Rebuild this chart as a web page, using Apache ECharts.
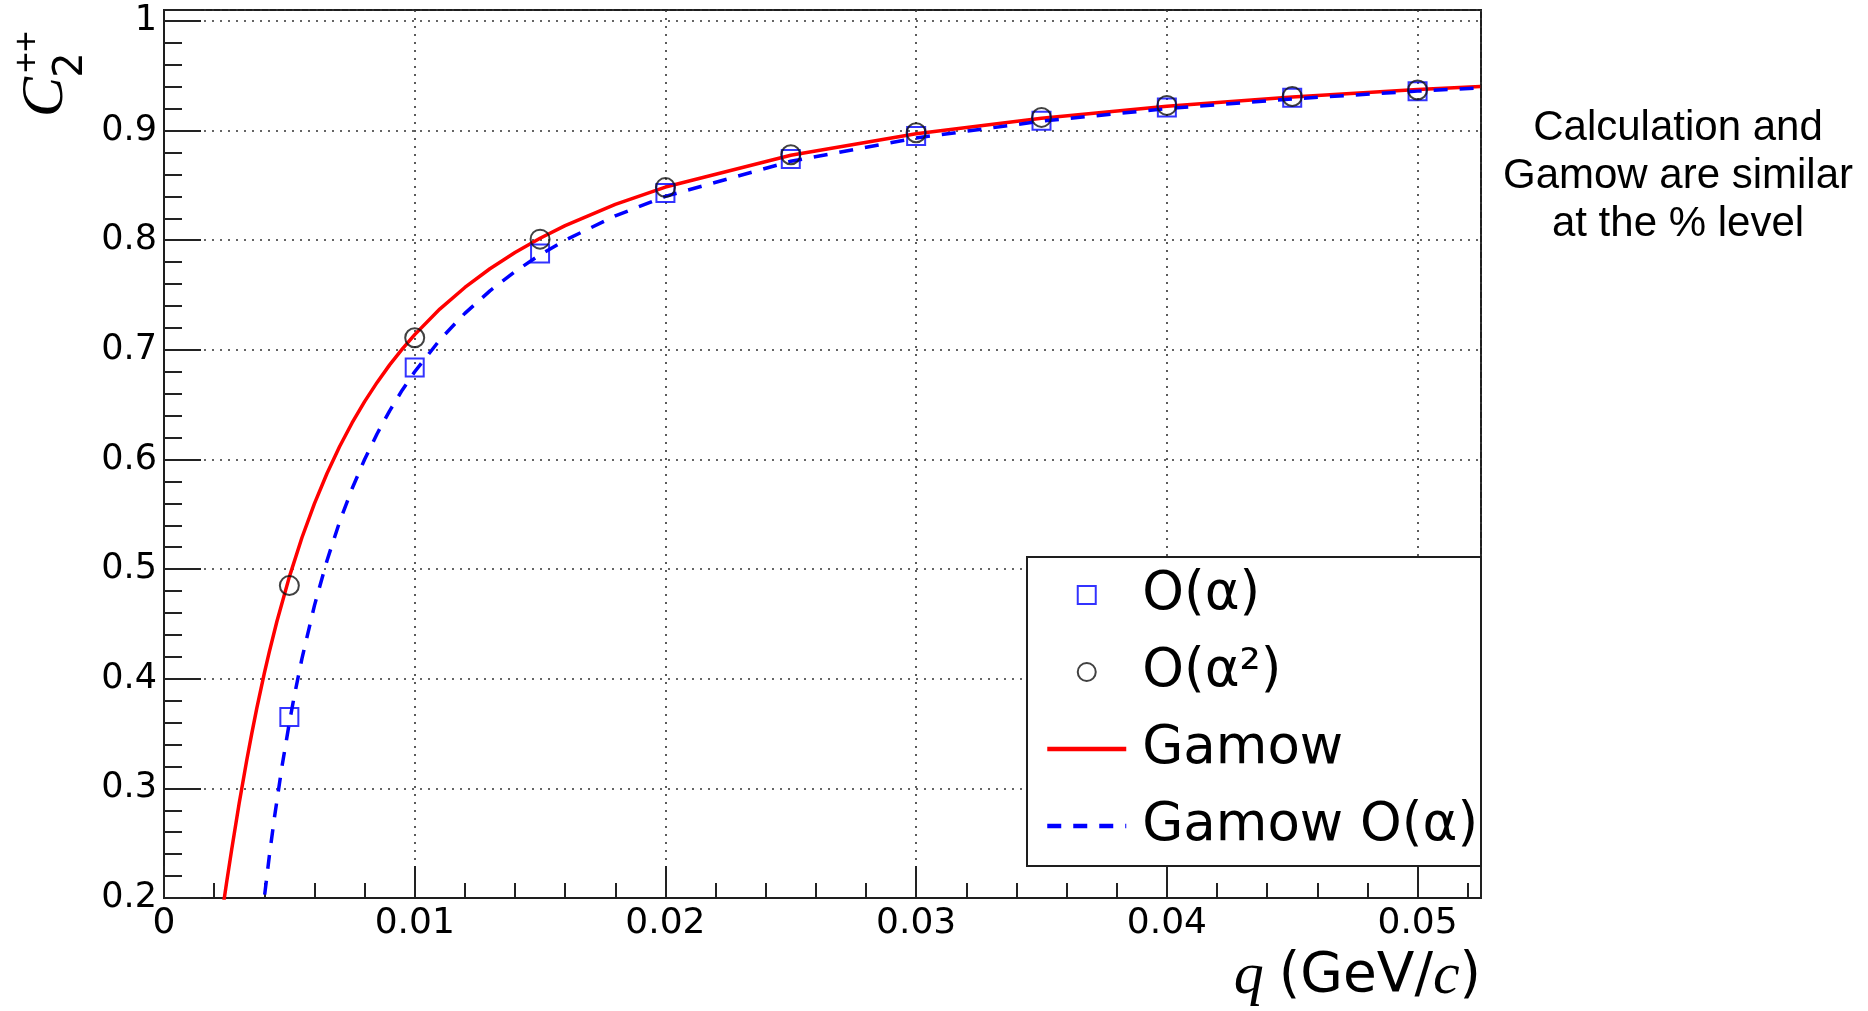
<!DOCTYPE html>
<html>
<head>
<meta charset="utf-8">
<script src="https://cdn.jsdelivr.net/npm/echarts@6/dist/echarts.min.js"></script>
<style>
html,body{margin:0;padding:0;background:#fff;}
#chart{width:1868px;height:1011px;}
</style>
</head>
<body>
<div id="chart"></div>
<script>
// ---- data ----
const markerQ = [0.005, 0.010, 0.015, 0.020, 0.025, 0.030, 0.035, 0.040, 0.045, 0.050];
const orderAlpha  = [0.365, 0.684, 0.788, 0.843, 0.874, 0.895, 0.909, 0.921, 0.930, 0.936];
const orderAlpha2 = [0.485, 0.711, 0.801, 0.848, 0.878, 0.898, 0.912, 0.923, 0.931, 0.937];

const gamowQ = [0.0023,0.0025,0.0027,0.003,0.0033,0.0035,0.0037,0.004,0.0042,0.0045,0.005,0.0055,0.006,0.0065,0.007,0.0075,0.008,0.0085,0.009,0.0095,0.010,0.011,0.012,0.013,0.014,0.015,0.016,0.018,0.020,0.025,0.030,0.035,0.040,0.045,0.050,0.0525];
const gamowC2 = [0.1835,0.2145,0.2443,0.2866,0.3257,0.3500,0.3729,0.4048,0.4245,0.4520,0.4929,0.5286,0.5597,0.5872,0.6116,0.6333,0.6528,0.6703,0.6863,0.7006,0.7139,0.7372,0.7569,0.7740,0.7888,0.8018,0.8133,0.8327,0.8485,0.8775,0.8971,0.9113,0.9221,0.9306,0.9374,0.9403];

const gamowAlphaQ = [0.0039,0.004,0.0042,0.0044,0.0047,0.005,0.0052,0.0055,0.006,0.0065,0.007,0.0075,0.008,0.0085,0.009,0.0095,0.010,0.011,0.012,0.013,0.014,0.015,0.016,0.018,0.020,0.025,0.030,0.035,0.040,0.045,0.050,0.0525];
const gamowAlphaC2 = [0.1795,0.2000,0.2381,0.2727,0.3191,0.3600,0.3846,0.4182,0.4667,0.5077,0.5429,0.5733,0.6000,0.6235,0.6444,0.6632,0.6800,0.7091,0.7333,0.7538,0.7714,0.7867,0.8000,0.8222,0.8400,0.8720,0.8933,0.9086,0.9200,0.9289,0.9360,0.9390];

const seriesNames = ['O(α)', 'O(α²)', 'Gamow', 'Gamow O(α)'];
const noteLines = ['Calculation and', 'Gamow are similar', 'at the % level'];

const X_MIN = 0, X_MAX = 0.05253, X_STEP = 0.01;
const Y_MIN = 0.2, Y_MAX = 1.01, Y_STEP = 0.1;

const zip = (a, b) => a.map((v, i) => [v, b[i]]);

function tickFmt(min, step) {
  return function (v) {
    const k = (v - min) / step;
    if (Math.abs(k - Math.round(k)) > 1e-6) return '';
    return String(+v.toFixed(4));
  };
}

const frameColor = '#1e1e1e';
const gridDots = { color: '#333', width: 1.6, type: [2, 6] };
// legend icon: an 18x18 square centred in the 79x18 icon box
const squareIcon = 'path://M0,0M79,18M30.5,0H48.5V18H30.5Z';

const chart = echarts.init(document.getElementById('chart'), null, { renderer: 'canvas' });
chart.setOption({
  animation: false,
  backgroundColor: '#ffffff',
  grid: {
    left: 164, right: 387, top: 10, bottom: 113,
    show: true, borderColor: frameColor, borderWidth: 2, backgroundColor: '#fff'
  },
  xAxis: {
    type: 'value', min: X_MIN, max: X_MAX, interval: X_STEP,
    axisLine: { onZero: false, lineStyle: { color: frameColor, width: 2 } },
    axisTick: { inside: true, length: 32, lineStyle: { color: '#222', width: 2 } },
    minorTick: { show: true, splitNumber: 5, length: 15, lineStyle: { color: '#222', width: 2 } },
    splitLine: { show: true, lineStyle: gridDots },
    axisLabel: { fontFamily: 'DejaVu Sans', fontSize: 36, color: '#000', margin: 8, formatter: tickFmt(X_MIN, X_STEP) }
  },
  yAxis: {
    type: 'value', min: Y_MIN, max: Y_MAX, interval: Y_STEP,
    axisLine: { onZero: false, lineStyle: { color: frameColor, width: 2 } },
    axisTick: { inside: true, length: 37, lineStyle: { color: '#222', width: 2 } },
    minorTick: { show: true, splitNumber: 5, length: 18, lineStyle: { color: '#222', width: 2 } },
    splitLine: { show: true, lineStyle: gridDots },
    axisLabel: { fontFamily: 'DejaVu Sans', fontSize: 35, color: '#000', margin: 7, formatter: tickFmt(Y_MIN, Y_STEP) }
  },
  legend: {
    orient: 'vertical', left: 1045, top: 565, padding: 0, z: 10,
    itemWidth: 79, itemHeight: 18, itemGap: 17, selectedMode: false,
    data: [
      { name: seriesNames[0], icon: squareIcon, itemStyle: { color: 'rgba(0,0,0,0)', borderColor: '#0000ff', borderWidth: 2 } },
      { name: seriesNames[1], icon: 'circle' },
      { name: seriesNames[2], itemStyle: { opacity: 0 }, lineStyle: { width: 4.5, color: '#ff0000' } },
      { name: seriesNames[3], itemStyle: { opacity: 0 }, lineStyle: { width: 4.5, color: '#0000ff', type: [14, 12] } }
    ],
    textStyle: { fontFamily: 'DejaVu Sans', fontSize: 53, color: '#000', lineHeight: 60, padding: [0, 0, 0, 11] }
  },
  graphic: [
    { type: 'rect', z: 3, shape: { x: 1027, y: 557, width: 454, height: 309 },
      style: { fill: '#fff', stroke: frameColor, lineWidth: 2 } },
    { type: 'text', x: 46, y: 97, rotation: Math.PI / 2,
      style: { text: 'C', font: 'italic 60px "Liberation Serif"', fill: '#000', align: 'center', verticalAlign: 'middle', textAlign: 'center', textVerticalAlign: 'middle' } },
    { type: 'text', x: 72, y: 65, rotation: Math.PI / 2,
      style: { text: '2', font: '40px "DejaVu Sans"', fill: '#000', align: 'center', verticalAlign: 'middle', textAlign: 'center', textVerticalAlign: 'middle' } },
    { type: 'text', x: 28, y: 52, rotation: Math.PI / 2,
      style: { text: '++', font: '36px "Liberation Sans"', fill: '#000', align: 'center', verticalAlign: 'middle', textAlign: 'center', textVerticalAlign: 'middle' } },
    { type: 'text', x: 1481, y: 977,
      style: { text: '{i|q }{n|(GeV/}{i|c}{n|)}', fill: '#000', align: 'right', verticalAlign: 'middle', textAlign: 'right', textVerticalAlign: 'middle',
        rich: { i: { fontFamily: 'Liberation Serif', fontStyle: 'italic', fontSize: 60, color: '#000' },
                n: { fontFamily: 'DejaVu Sans', fontSize: 55, color: '#000' } } } },
    { type: 'text', x: 1678, y: 176,
      style: { text: noteLines.join('\n'), font: '42px "Liberation Sans"', lineHeight: 48, fill: '#000', align: 'center', verticalAlign: 'middle', textAlign: 'center', textVerticalAlign: 'middle' } }
  ],
  series: [
    { name: seriesNames[0], type: 'scatter', z: 5, symbol: 'rect', symbolSize: 18,
      itemStyle: { color: 'rgba(0,0,0,0)', borderColor: '#0000ff', borderWidth: 2 },
      data: zip(markerQ, orderAlpha) },
    { name: seriesNames[1], type: 'scatter', z: 5, symbol: 'circle', symbolSize: 19,
      itemStyle: { color: 'rgba(0,0,0,0)', borderColor: '#111', borderWidth: 2 },
      data: zip(markerQ, orderAlpha2) },
    { name: seriesNames[2], type: 'line', z: 4, symbol: 'none', smooth: false, clip: true,
      color: '#ff0000', lineStyle: { color: '#ff0000', width: 3.5, join: 'round' },
      data: zip(gamowQ, gamowC2) },
    { name: seriesNames[3], type: 'line', z: 4, symbol: 'none', smooth: false, clip: true,
      color: '#0000ff', lineStyle: { color: '#0000ff', width: 3.5, type: [14, 12] },
      data: zip(gamowAlphaQ, gamowAlphaC2) }
  ]
});
</script>
</body>
</html>
